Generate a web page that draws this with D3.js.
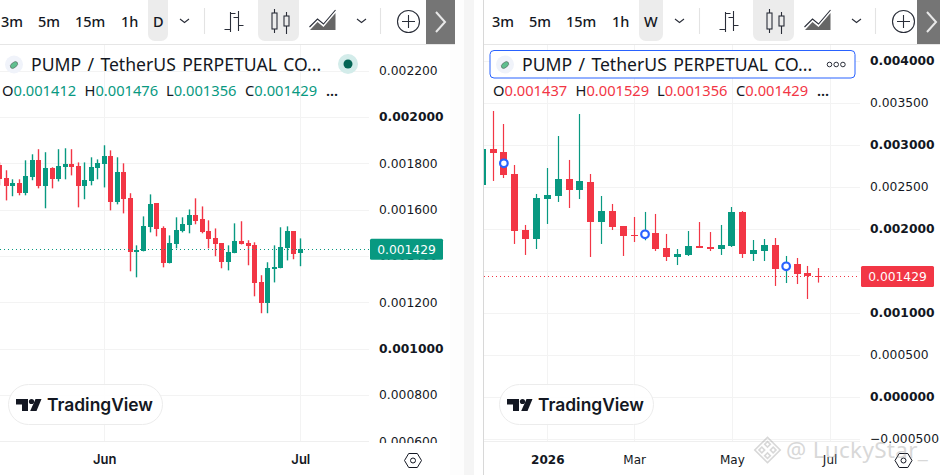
<!DOCTYPE html>
<html>
<head>
<meta charset="utf-8">
<script src="https://cdn.jsdelivr.net/npm/d3@7"></script>
<style>
  html, body { margin: 0; padding: 0; background: #fff; overflow: hidden; }
  svg { display: block; }
  text { font-family: "DejaVu Sans", sans-serif; }
  .ui { font-family: "Noto Sans", sans-serif; }
</style>
</head>
<body>
<div id="chart"></div>
<script>
// daily candles, from 16 May
var dailyOpen = [0.001791,0.001735,0.001701,0.001714,0.001671,0.001740,0.001813,0.001701,0.001778,0.001731,0.001783,0.001796,0.001787,0.001701,0.001722,0.001778,0.001796,0.001830,0.001632,0.001761,0.001649,0.001416,0.001420,0.001524,0.001627,0.001519,0.001368,0.001450,0.001506,0.001532,0.001576,0.001558,0.001506,0.001476,0.001455,0.001373,0.001412,0.001463,0.001455,0.001446,0.001286,0.001196,0.001342,0.001347,0.001433,0.001506,0.001412];
var dailyHigh = [0.001804,0.001770,0.001731,0.001731,0.001813,0.001839,0.001861,0.001848,0.001783,0.001861,0.001865,0.001861,0.001804,0.001804,0.001826,0.001817,0.001878,0.001856,0.001826,0.001800,0.001671,0.001446,0.001571,0.001666,0.001627,0.001528,0.001489,0.001567,0.001567,0.001601,0.001649,0.001614,0.001554,0.001519,0.001455,0.001446,0.001541,0.001550,0.001468,0.001459,0.001317,0.001373,0.001446,0.001524,0.001528,0.001506,0.001476];
var dailyLow = [0.001705,0.001640,0.001658,0.001662,0.001662,0.001727,0.001692,0.001606,0.001692,0.001722,0.001731,0.001748,0.001610,0.001645,0.001705,0.001731,0.001696,0.001597,0.001623,0.001584,0.001334,0.001308,0.001420,0.001502,0.001485,0.001351,0.001368,0.001433,0.001502,0.001498,0.001537,0.001498,0.001433,0.001399,0.001347,0.001338,0.001412,0.001450,0.001360,0.001226,0.001153,0.001153,0.001286,0.001347,0.001381,0.001386,0.001356];
var dailyClose = [0.001731,0.001701,0.001714,0.001671,0.001744,0.001813,0.001701,0.001778,0.001731,0.001787,0.001796,0.001783,0.001701,0.001727,0.001783,0.001800,0.001830,0.001632,0.001761,0.001645,0.001416,0.001425,0.001528,0.001623,0.001515,0.001368,0.001455,0.001511,0.001537,0.001576,0.001550,0.001502,0.001472,0.001450,0.001373,0.001416,0.001463,0.001450,0.001442,0.001282,0.001196,0.001347,0.001351,0.001437,0.001506,0.001407,0.001429];
var dailyTicks = [0.0022,0.0020,0.0018,0.0016,0.0014,0.0012,0.0010,0.0008,0.0006];
var dailyOhlcLabels = ["0.001412","0.001476","0.001356","0.001429"];

// weekly candles, from 24 Nov 2025
var weeklyOpen = [0.002518,0.002946,0.002911,0.002649,0.001982,0.001875,0.002351,0.002387,0.002589,0.002458,0.002554,0.002078,0.002209,0.002030,0.001923,0.001911,0.001946,0.001768,0.001661,0.001685,0.001792,0.001780,0.001756,0.001792,0.002196,0.001696,0.001732,0.001804,0.001518,0.001577,0.001470,0.001437];
var weeklyHigh = [0.003000,0.003399,0.003244,0.002756,0.002042,0.002411,0.002720,0.003101,0.002816,0.003363,0.002649,0.002387,0.002292,0.002030,0.002137,0.002197,0.002173,0.001935,0.001756,0.001970,0.002077,0.001958,0.002042,0.002256,0.002208,0.001863,0.001875,0.001887,0.001673,0.001649,0.001554,0.001529];
var weeklyLow = [0.002450,0.002566,0.002601,0.001816,0.001685,0.001756,0.002054,0.002316,0.002244,0.002351,0.001661,0.001816,0.001982,0.001673,0.001839,0.001860,0.001732,0.001613,0.001565,0.001673,0.001768,0.001732,0.001685,0.001780,0.001649,0.001613,0.001613,0.001316,0.001351,0.001339,0.001161,0.001356];
var weeklyClose = [0.002946,0.002899,0.002637,0.001970,0.001875,0.002363,0.002399,0.002589,0.002458,0.002566,0.002078,0.002209,0.002018,0.001911,0.001911,0.001935,0.001756,0.001661,0.001696,0.001792,0.001768,0.001756,0.001804,0.002196,0.001696,0.001744,0.001804,0.001518,0.001577,0.001458,0.001435,0.001429];
var weeklyTicks = [0.004,0.0035,0.003,0.0025,0.002,0.0015,0.001,0.0005,0,-0.0005];
var weeklyOhlcLabels = ["0.001437","0.001529","0.001356","0.001429"];

// round blue markers on the weekly chart
var markerDates = [new Date(Date.UTC(2025,11,8)), new Date(Date.UTC(2026,2,9)), new Date(Date.UTC(2026,5,8))];
var markerPrices = [0.002776, 0.001931, 0.001550];

var lastPrice = 0.001429;
var title = "PUMP / TetherUS PERPETUAL CO...";
var green = "#089981", red = "#f23645", gridColor = "#f3f3f3", textColor = "#131722";

var svg = d3.select("#chart").append("svg").attr("width", 940).attr("height", 475);
var defs = svg.append("defs");

// gutter between the two widgets
svg.append("rect").attr("x", 450).attr("y", 0).attr("width", 14).attr("height", 475).attr("fill", "#fdfdfd");
svg.append("rect").attr("x", 464).attr("y", 0).attr("width", 10).attr("height", 475).attr("fill", "#f5f5f5");
svg.append("rect").attr("x", 483).attr("y", 0).attr("width", 1).attr("height", 475).attr("fill", "#d8d8d8");

function candles(dates, open, high, low, close) {
  return dates.map(function(d, i) {
    return { date: d, open: open[i], high: high[i], low: low[i], close: close[i] };
  });
}

function drawPanel(p) {
  var y = d3.scaleLinear().domain(p.priceDomain).range(p.priceRange);
  var x = d3.scaleUtc().domain(p.timeDomain).range(p.timeRange);

  var clipId = "clip" + p.id;
  defs.append("clipPath").attr("id", clipId).append("rect")
    .attr("x", p.left).attr("y", 45).attr("width", p.right - p.left).attr("height", 396);
  defs.append("clipPath").attr("id", clipId + "a").append("rect")
    .attr("x", p.right).attr("y", 45).attr("width", 90).attr("height", 398);

  var plot = svg.append("g").attr("clip-path", "url(#" + clipId + ")");

  // grid
  plot.selectAll(".hgrid").data(p.ticks).enter().append("line")
    .attr("x1", p.left).attr("x2", p.right)
    .attr("y1", d => Math.round(y(d)) + 0.5).attr("y2", d => Math.round(y(d)) + 0.5)
    .attr("stroke", gridColor);
  plot.selectAll(".vgrid").data(p.timeTicks).enter().append("line")
    .attr("x1", d => Math.round(x(d)) + 0.5).attr("x2", d => Math.round(x(d)) + 0.5)
    .attr("y1", 45).attr("y2", 441)
    .attr("stroke", gridColor);

  // candles
  var bars = plot.selectAll(".candle").data(p.data).enter().append("g")
    .attr("fill", d => d.close >= d.open ? green : red);
  bars.append("rect")
    .attr("x", d => Math.floor(x(d.date)) + 0.5 - p.wickWidth / 2)
    .attr("width", p.wickWidth)
    .attr("y", d => y(d.high))
    .attr("height", d => y(d.low) - y(d.high));
  bars.append("rect")
    .attr("shape-rendering", "crispEdges")
    .attr("x", d => Math.floor(x(d.date)) - (p.bodyWidth - 1) / 2)
    .attr("width", p.bodyWidth)
    .attr("y", d => y(Math.max(d.open, d.close)))
    .attr("height", d => Math.max(1, Math.abs(y(d.open) - y(d.close))));

  // last price line
  var lastColor = p.lastColor;
  plot.append("line")
    .attr("x1", p.left).attr("x2", p.right)
    .attr("y1", Math.round(y(lastPrice)) + 0.5).attr("y2", Math.round(y(lastPrice)) + 0.5)
    .attr("stroke", lastColor).attr("stroke-dasharray", "1 3");

  // markers
  if (p.markers) {
    plot.selectAll(".marker").data(p.markers).enter().append("circle")
      .attr("cx", d => x(d.date)).attr("cy", d => y(d.price)).attr("r", 3.8)
      .attr("fill", "#fff").attr("stroke", "#2962ff").attr("stroke-width", 2.2);
  }

  // price axis, the outer group holds the clip so it stays in page coordinates
  var yAxis = svg.append("g")
    .attr("clip-path", "url(#" + clipId + "a)")
    .append("g")
    .attr("transform", "translate(" + p.right + ",0)")
    .call(d3.axisRight(y).tickValues(p.ticks).tickSize(0).tickPadding(p.labelPad).tickFormat(d3.format(".6f")));
  yAxis.select(".domain").remove();
  yAxis.selectAll("text")
    .attr("fill", textColor)
    .style("font-family", '"DejaVu Sans", sans-serif')
    .style("font-size", "12.3px")
    .style("font-weight", d => Math.abs(d * 1000 - Math.round(d * 1000)) < 1e-6 ? "bold" : "normal");

  // time axis
  svg.append("line").attr("x1", p.left).attr("x2", p.right).attr("y1", 441.5).attr("y2", 441.5).attr("stroke", "#efefef");
  var xAxis = svg.append("g")
    .attr("transform", "translate(0,441)")
    .call(d3.axisBottom(x).tickValues(p.timeTicks).tickSize(0).tickPadding(14).tickFormat((d, i) => p.timeLabels[i]));
  xAxis.select(".domain").remove();
  xAxis.selectAll("text")
    .attr("fill", textColor)
    .style("font-family", p.timeFont)
    .style("font-size", p.timeSize)
    .style("font-weight", (d, i) => p.timeLabels[i] === "2026" ? "bold" : p.timeWeight);

  // last price tag
  svg.append("rect").attr("x", p.tagX).attr("y", y(lastPrice) - 10.5).attr("width", 73).attr("height", 21)
    .attr("rx", 1.5).attr("fill", lastColor);
  svg.append("text").attr("x", p.tagX + 36.5).attr("y", y(lastPrice) + 4.5)
    .attr("text-anchor", "middle").attr("fill", "#fff").style("font-size", "12.3px")
    .text(d3.format(".6f")(lastPrice));

  drawToolbar(p);
  drawLegend(p);
  drawLogo(p.pillX);
  drawGear(p.gearX);
}

function drawToolbar(p) {
  var t = svg.append("g").attr("class", "toolbar");
  t.append("line").attr("x1", p.barX).attr("x2", p.barEnd).attr("y1", 44.5).attr("y2", 44.5).attr("stroke", "#e6e6e6");
  // selected interval and selected chart type
  t.append("rect").attr("x", p.ivX).attr("y", -8).attr("width", p.ivW).attr("height", 49).attr("rx", 7).attr("fill", "#ececec");
  t.append("rect").attr("x", p.o + 258).attr("y", -8).attr("width", 41).attr("height", 49).attr("rx", 7).attr("fill", "#ececec");
  p.intervals.forEach(function(s, i) {
    t.append("text").attr("class", "ui").attr("x", p.ivTextX[i]).attr("y", 26.5)
      .attr("fill", textColor).style("font-size", "14.5px").style("font-weight", 500).text(s);
  });
  var ink = "#2a2e39";
  var ic = t.append("g").attr("fill", "none").attr("stroke", ink).attr("stroke-width", 1.1).attr("transform", "translate(" + p.o + ",0)");
  // chevrons
  ic.append("path").attr("d", "M180 19l4.5 3.5 4.5-3.5");
  ic.append("path").attr("d", "M357 19l4.5 3.5 4.5-3.5");
  // separators
  ic.append("path").attr("stroke", "#e3e3e3").attr("d", "M204.5 8v26M380.5 8v26");
  // bar icon
  ic.append("path").attr("d", "M230.5 12v20M224.5 29.500h6M230.500 13.500h5M238.500 11v20M233.500 17.500h5M238.500 25.500h5");
  // candle icon
  ic.append("path").attr("d", "M274.500 9v24M286.500 12v22");
  ic.append("rect").attr("x", 272).attr("y", 13).attr("width", 5).attr("height", 16).attr("fill", "#ececec");
  ic.append("rect").attr("x", 284).attr("y", 16).attr("width", 5).attr("height", 10).attr("fill", "#ececec");
  // area icon
  ic.append("path").attr("d", "M309.500 27l8-8 6 5 12-14");
  ic.append("path").attr("d", "M310 30l7.500-8 6 5 12-14v17z").attr("fill", "#666").attr("stroke", "none");
  // plus in a circle
  ic.append("circle").attr("cx", 408.500).attr("cy", 21.500).attr("r", 11);
  ic.append("path").attr("d", "M408.500 15v13M402 21.500h13");
  // scroll button
  t.append("rect").attr("x", p.btnX).attr("y", 0).attr("width", p.btnW).attr("height", 44).attr("fill", "#757575");
  t.append("path").attr("d", "M" + (p.btnX + 10) + " 12l9 10-9 10").attr("fill", "none").attr("stroke", "#e8e8e8").attr("stroke-width", 2);
}

function drawLegend(p) {
  var l = svg.append("g");
  if (p.focused) {
    l.append("rect").attr("x", p.legendBoxX).attr("y", 50.500).attr("width", 365).attr("height", 27.500).attr("rx", 4)
      .attr("fill", "#fff").attr("stroke", "#2962ff");
    [0, 1, 2].forEach(function(i) {
      l.append("circle").attr("cx", 829.500 + i * 6.700).attr("cy", 64.500).attr("r", 2.300).attr("fill", "none").attr("stroke", "#2a2e39");
    });
  } else {
    l.append("circle").attr("cx", 348).attr("cy", 64).attr("r", 10).attr("fill", "#d3ecea");
    l.append("circle").attr("cx", 348).attr("cy", 64).attr("r", 4.500).attr("fill", "#056656");
  }
  // symbol icon
  l.append("circle").attr("cx", p.iconX).attr("cy", 64.500).attr("r", 9).attr("fill", "#f0f3fa");
  l.append("ellipse").attr("cx", p.iconX).attr("cy", 65).attr("rx", 4.200).attr("ry", 2.600)
    .attr("transform", "rotate(-40," + p.iconX + ",65)").attr("fill", "#5fbf8f").attr("stroke", "#555").attr("stroke-width", 0.500);
  l.append("text").attr("class", "ui").attr("x", p.titleX).attr("y", 70.500)
    .attr("fill", textColor).style("font-size", "17.600px").style("word-spacing", "1.8px").text(title);

  var letters = ["O", "H", "L", "C"], offs = [0, 82.500, 164, 243];
  letters.forEach(function(s, i) {
    var g = l.append("text").attr("class", "ui").attr("x", p.ohlcX + offs[i]).attr("y", 95.500).style("font-size", "14.700px");
    g.append("tspan").attr("fill", textColor).text(s);
    g.append("tspan").attr("fill", p.lastColor).text(p.ohlc[i]);
  });
  l.append("text").attr("class", "ui").attr("x", p.ohlcX + 324).attr("y", 95.500)
    .attr("fill", textColor).style("font-size", "14.500px").style("font-weight", 600).text("...");
}

function drawLogo(px) {
  var g = svg.append("g").attr("transform", "translate(" + px + ",0)");
  g.append("rect").attr("x", 0.500).attr("y", 384.500).attr("width", 154).attr("height", 40).attr("rx", 20)
    .attr("fill", "#fff").attr("fill-opacity", 0.9).attr("stroke", "#ececec");
  g.append("path").attr("d", "M8 399h12v12h-6v-6.500h-6z").attr("fill", "#131722");
  g.append("circle").attr("cx", 23.500).attr("cy", 401.500).attr("r", 2.600).attr("fill", "#131722");
  g.append("path").attr("d", "M27.500 399h6l-5 12h-6.300z").attr("fill", "#131722");
  g.append("text").attr("x", 39).attr("y", 411).attr("fill", "#131722")
    .style("font-family", "Inter, sans-serif").style("font-size", "17.400px").style("font-weight", 600).text("TradingView");
}

function drawGear(cx) {
  var g = svg.append("g").attr("transform", "translate(" + cx + ",460.500)");
  g.append("path").attr("d", "M-8.500 0L-4.300-7H4.300L8.500 0L4.300 7H-4.300Z").attr("fill", "#fff").attr("stroke", "#131722");
  g.append("circle").attr("r", 2.500).attr("fill", "none").attr("stroke", "#131722");
}

drawPanel({
  id: "d",
  data: candles(d3.utcDay.range(new Date(Date.UTC(2026,4,16)), new Date(Date.UTC(2026,6,2))), dailyOpen, dailyHigh, dailyLow, dailyClose),
  priceDomain: [0.0008, 0.0014], priceRange: [395, 256],
  timeDomain: [new Date(Date.UTC(2026,5,1)), new Date(Date.UTC(2026,6,1))], timeRange: [104.3, 300.3],
  ticks: dailyTicks,
  timeTicks: [new Date(Date.UTC(2026,5,1)), new Date(Date.UTC(2026,6,1))],
  timeLabels: ["Jun", "Jul"],
  timeFont: "Inter, sans-serif", timeSize: "13px", timeWeight: 600,
  left: 0, right: 369, labelPad: 10, bodyWidth: 5, wickWidth: 1.4, tagX: 370,
  lastColor: green, ohlc: dailyOhlcLabels,
  o: 0, barX: 0, barEnd: 455, btnX: 426, btnW: 29,
  intervals: ["3m", "5m", "15m", "1h", "D"], ivTextX: [1, 38, 75, 121, 153], ivX: 148, ivW: 20,
  focused: false, iconX: 14, titleX: 31, ohlcX: 2, pillX: 8, gearX: 413
});

drawPanel({
  id: "w",
  data: candles(d3.utcWeek.range(new Date(Date.UTC(2025,10,23)), new Date(Date.UTC(2026,5,29))).map(d => d3.utcDay.offset(d, 1)), weeklyOpen, weeklyHigh, weeklyLow, weeklyClose),
  markers: markerDates.map((d, i) => ({ date: d, price: markerPrices[i] })),
  priceDomain: [0, 0.0015], priceRange: [396.5, 270.5],
  timeDomain: [new Date(Date.UTC(2026,0,5)), new Date(Date.UTC(2026,6,6))], timeRange: [547.3, 829.6],
  ticks: weeklyTicks,
  timeTicks: [new Date(Date.UTC(2026,0,5)), new Date(Date.UTC(2026,2,2)), new Date(Date.UTC(2026,4,4)), new Date(Date.UTC(2026,6,6))],
  timeLabels: ["2026", "Mar", "May", "Jul"],
  timeFont: '"DejaVu Sans", sans-serif', timeSize: "12px", timeWeight: "normal",
  left: 484, right: 860, labelPad: 10, bodyWidth: 7, wickWidth: 1.2, tagX: 861,
  lastColor: red, ohlc: weeklyOhlcLabels,
  o: 495, barX: 484, barEnd: 940, btnX: 917, btnW: 23,
  intervals: ["3m", "5m", "15m", "1h", "W"], ivTextX: [492, 529, 566, 612, 644], ivX: 639, ivW: 24,
  focused: true, legendBoxX: 490, iconX: 505, titleX: 522, ohlcX: 493, pillX: 499, gearX: 903.5
});

// watermark over everything
var wm = svg.append("g").attr("opacity", 0.33);
wm.append("text").attr("x", 786).attr("y", 458).attr("fill", "#8a8a8a").style("font-family", '"Noto Sans", sans-serif').style("font-size", "22.5px").style("letter-spacing", "0.3px").text("@ LuckyStar_");
var diamond = wm.append("g").attr("transform", "translate(767.5,450) rotate(45)").attr("fill", "none").attr("stroke", "#8a8a8a").attr("stroke-width", 1.6);
[[-6, -6], [2, -6], [-6, 2], [2, 2]].forEach(function(c) {
  diamond.append("rect").attr("x", c[0]).attr("y", c[1]).attr("width", 4).attr("height", 4);
});
diamond.append("rect").attr("x", -9).attr("y", -9).attr("width", 18).attr("height", 18);
</script>
</body>
</html>
